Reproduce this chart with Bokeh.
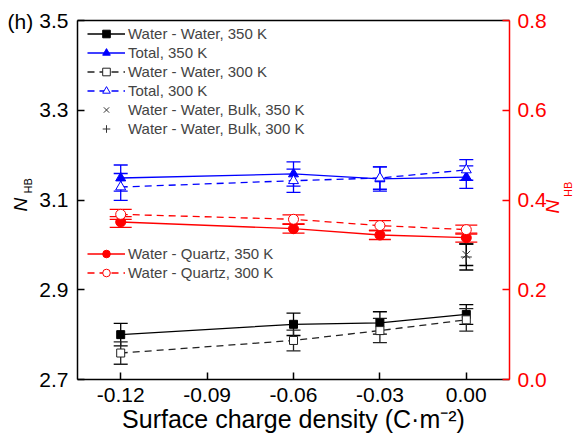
import math
from bokeh.plotting import figure
from bokeh.models import (Range1d, LinearAxis, FixedTicker, NumeralTickFormatter, Whisker,
                          TeeHead, ColumnDataSource, Legend, LegendItem, Title)
from bokeh.embed import file_html
from bokeh.resources import INLINE

# ---------------- data ----------------
charge = [-0.12, -0.06, -0.03, 0.00]
ww350 = [2.800, 2.823, 2.826, 2.845]
ww350_err = [0.025, 0.025, 0.025, 0.022]
ww300 = [2.759, 2.787, 2.809, 2.833]
ww300_err = [0.025, 0.023, 0.027, 0.025]
tot350 = [3.149, 3.158, 3.147, 3.151]
tot350_err = [0.029, 0.027, 0.027, 0.025]
tot300 = [3.129, 3.143, 3.149, 3.167]
tot300_err = [0.030, 0.026, 0.025, 0.023]
wq350 = [0.351, 0.336, 0.322, 0.316]
wq350_err = [0.012, 0.010, 0.010, 0.010]
wq300 = [0.368, 0.357, 0.343, 0.334]
wq300_err = [0.011, 0.010, 0.011, 0.010]
bulk_x = [0.00]
bulk350 = [2.978]
bulk350_err = [0.024]
bulk300 = [2.973]
bulk300_err = [0.029]

left_ticks = [2.7, 2.9, 3.1, 3.3, 3.5]
right_ticks = [0.0, 0.2, 0.4, 0.6, 0.8]
x_ticks = [-0.12, -0.09, -0.06, -0.03, 0.00]
panel_tag = "(h)"
right_title_pos = 0.370   # where the right-hand "N" of N_HB starts on the right scale

FONT = "Liberation Sans"
BLUE = "#0000ff"
RED = "#ff0000"
BLACK = "#000000"
NB = "\u00a0"

p = figure(width=585, height=440, output_backend="svg", toolbar_location=None,
           x_range=Range1d(-0.135, 0.015), y_range=Range1d(2.7, 3.5),
           min_border_left=77, min_border_right=76, min_border_top=20, min_border_bottom=61,
           background_fill_color="white", border_fill_color="white")
p.outline_line_color = None
p.grid.visible = False
p.extra_y_ranges = {"right": Range1d(0.0, 0.8)}

# panel tag "(h)" drawn by the plot title, beside the top tick label
p.title.text = panel_tag
p.title.align = "left"
p.title.offset = -70
p.title.standoff = -25
p.title.text_font = FONT
p.title.text_font_size = "21px"
p.title.text_font_style = "normal"
p.title.text_color = BLACK

def style_axis(ax, color, ticks, fmt):
    ax.ticker = FixedTicker(ticks=ticks)
    ax.formatter = NumeralTickFormatter(format=fmt)
    ax.axis_line_color = color
    ax.axis_line_width = 1.5
    ax.major_tick_line_color = color
    ax.major_tick_line_width = 1.5
    ax.major_tick_in = 7
    ax.major_tick_out = 0
    ax.minor_tick_in = 0
    ax.minor_tick_out = 0
    ax.major_label_text_color = color
    ax.major_label_text_font = FONT
    ax.major_label_text_font_size = "21px"

style_axis(p.xaxis[0], BLACK, x_ticks, "0.00")
style_axis(p.yaxis[0], BLACK, left_ticks, "0.0")
p.xaxis[0].major_label_standoff = 8
p.yaxis[0].major_label_standoff = 9
p.xaxis[0].axis_label = "Surface charge density (C\u00b7m\u207b\u00b2)"
p.xaxis[0].axis_label_text_font = FONT
p.xaxis[0].axis_label_text_font_style = "normal"
p.xaxis[0].axis_label_text_color = BLACK
p.xaxis[0].axis_label_text_font_size = "25px"
p.xaxis[0].axis_label_standoff = 0

raxis = LinearAxis(y_range_name="right")
style_axis(raxis, RED, right_ticks, "0.0")
raxis.major_label_standoff = 8
p.add_layout(raxis, "right")

top = LinearAxis(ticker=FixedTicker(ticks=[]), major_label_text_font_size="0px",
                 major_tick_in=0, major_tick_out=0, minor_tick_in=0, minor_tick_out=0,
                 axis_line_color=BLACK, axis_line_width=1.5)
p.add_layout(top, "above")

# ----- left title N_HB (two titles, subscript nearest the axis) -----
p.add_layout(Title(text="HB", align="left", offset=186, standoff=6, text_font=FONT,
                   text_font_size="11px", text_font_style="normal", text_color=BLACK), "left")
p.add_layout(Title(text="N", align="left", offset=168, standoff=-28, text_font=FONT,
                   text_font_size="19px", text_font_style="italic", text_color=BLACK), "left")

# ----- right title N_HB -----
nax = LinearAxis(y_range_name="right", ticker=FixedTicker(ticks=[right_title_pos]),
                 major_label_overrides={right_title_pos: "N"},
                 major_label_orientation=math.pi / 2,
                 major_label_text_font=FONT, major_label_text_font_style="italic",
                 major_label_text_font_size="19px", major_label_text_color=RED,
                 major_label_standoff=3,
                 major_tick_in=0, major_tick_out=0, minor_tick_in=0, minor_tick_out=0,
                 axis_line_color=None)
p.add_layout(nax, "right")
sub = LinearAxis(y_range_name="right", ticker=FixedTicker(ticks=[]), major_label_text_font_size="0px",
                 major_tick_in=0, major_tick_out=0, minor_tick_in=0, minor_tick_out=0,
                 axis_line_color=None, axis_label=NB + "HB", axis_label_text_font=FONT,
                 axis_label_text_font_style="normal", axis_label_text_font_size="11px",
                 axis_label_text_color=RED, axis_label_standoff=-9)
if "axis_label_orientation" in LinearAxis.properties():
    sub.axis_label_orientation = math.pi / 2
p.add_layout(sub, "right")

def series(y, err, color, marker, filled, dash, cap, yr="default", msize=9):
    src = ColumnDataSource(dict(x=charge, y=y,
                                lo=[a - b for a, b in zip(y, err)],
                                hi=[a + b for a, b in zip(y, err)]))
    w = Whisker(source=src, base="x", lower="lo", upper="hi", line_color=color, line_width=1.3,
                upper_head=TeeHead(size=cap, line_color=color, line_width=1.3),
                lower_head=TeeHead(size=cap, line_color=color, line_width=1.3),
                y_range_name=yr)
    p.add_layout(w)
    ln = p.line("x", "y", source=src, line_color=color, line_width=1.3, line_dash=dash,
                y_range_name=yr)
    sc = p.scatter("x", "y", source=src, marker=marker, size=msize, line_color=color,
                   fill_color=color if filled else "white", line_width=1,
                   y_range_name=yr)
    return [ln, sc]

r_ww350 = series(ww350, ww350_err, BLACK, "square", True, "solid", 14, msize=8)
r_tot350 = series(tot350, tot350_err, BLUE, "triangle", True, "solid", 14, msize=10)
r_ww300 = series(ww300, ww300_err, "#222222", "square", False, "7 5", 14, msize=8)
r_tot300 = series(tot300, tot300_err, BLUE, "triangle", False, "7 5", 14, msize=10)
r_wq350 = series(wq350, wq350_err, RED, "circle", True, "solid", 22, yr="right", msize=10)
r_wq300 = series(wq300, wq300_err, RED, "circle", False, "7 5", 22, yr="right", msize=10)

def bulk(y, err, marker):
    src = ColumnDataSource(dict(x=bulk_x, y=y,
                                lo=[a - b for a, b in zip(y, err)],
                                hi=[a + b for a, b in zip(y, err)]))
    w = Whisker(source=src, base="x", lower="lo", upper="hi", line_color=BLACK, line_width=1.3,
                upper_head=TeeHead(size=14, line_color=BLACK, line_width=1.3),
                lower_head=TeeHead(size=14, line_color=BLACK, line_width=1.3))
    p.add_layout(w)
    return p.scatter("x", "y", source=src, marker=marker, size=11, line_color="#333333",
                     line_width=1)

r_b350 = bulk(bulk350, bulk350_err, "x")
r_b300 = bulk(bulk300, bulk300_err, "cross")

def make_legend(items, loc):
    leg = Legend(items=items, location=loc, padding=2, margin=0, spacing=0,
                 glyph_width=38, glyph_height=19, label_height=19, label_standoff=3,
                 label_text_font=FONT, label_text_font_size="15px",
                 background_fill_alpha=0, border_line_alpha=0)
    p.add_layout(leg)

make_legend([
    LegendItem(label="Water - Water, 350 K", renderers=r_ww350),
    LegendItem(label="Total, 350 K", renderers=r_tot350),
    LegendItem(label="Water - Water, 300 K", renderers=r_ww300),
    LegendItem(label="Total, 300 K", renderers=r_tot300),
    LegendItem(label="Water - Water, Bulk, 350 K", renderers=[r_b350]),
    LegendItem(label="Water - Water, Bulk, 300 K", renderers=[r_b300]),
], (8, 239))
make_legend([
    LegendItem(label="Water - Quartz, 350 K", renderers=r_wq350),
    LegendItem(label="Water - Quartz, 300 K", renderers=r_wq300),
], (8, 95))

open("out.html", "w").write(file_html(p, INLINE))
